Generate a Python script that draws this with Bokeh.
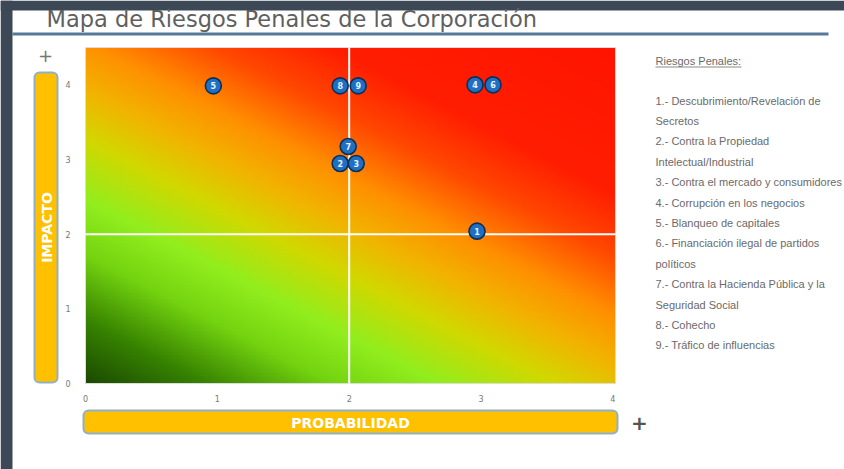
import numpy as np
from math import pi
from bokeh.plotting import figure
from bokeh.models import Range1d, Label, BoxAnnotation, ColumnDataSource, LinearAxis, FixedTicker
from bokeh.core.properties import value
from bokeh.embed import file_html
from bokeh.resources import INLINE

# ---------------- data ----------------
title_text = "Mapa de Riesgos Penales de la Corporación"
x_title = "PROBABILIDAD"
y_title = "IMPACTO"
risk_ids = ["1", "2", "3", "4", "5", "6", "7", "8", "9"]
probabilidad = [3, 2, 2, 3, 1, 3, 2, 2, 2]
impacto = [2, 3, 3, 4, 4, 4, 3, 4, 4]
# small visual separation of coincident points (pixels)
jitter_px_x = [-4, -9, 7, -6, -4, 12, -1, -9, 9]
jitter_px_y = [3, -4, -4, 0, -1, 0, 13, -1, -1]
x_ticks = [0, 1, 2, 3, 4]
y_ticks = [0, 1, 2, 3, 4]
legend_title = "Riesgos Penales:"
legend_lines = [
    "1.- Descubrimiento/Revelación de",
    "Secretos",
    "2.- Contra la Propiedad",
    "Intelectual/Industrial",
    "3.- Contra el mercado y consumidores",
    "4.- Corrupción en los negocios",
    "5.- Blanqueo de capitales",
    "6.- Financiación ilegal de partidos",
    "políticos",
    "7.- Contra la Hacienda Pública y la",
    "Seguridad Social",
    "8.- Cohecho",
    "9.- Tráfico de influencias",
]

# ---------------- figure: frame = whole page, default ranges in page pixels ----------------
W, H = 844, 469
X_MAX, Y_MAX = 4.02, 4.5
FL, FT, FR, FB = 85, 47, 615, 383  # chart area in page px
px_x = (FR - FL) / X_MAX
px_y = (FB - FT) / Y_MAX

p = figure(width=W, height=H, output_backend="svg", toolbar_location=None,
           x_range=Range1d(0, W), y_range=Range1d(H, 0), title=None,
           x_axis_location=None, y_axis_location=None, min_border=0)
p.background_fill_color = "white"
p.border_fill_color = "white"
p.outline_line_color = None
p.grid.visible = False
# chart coordinate system (probability / impact) mapped onto the page
p.extra_x_ranges = {"chart": Range1d(-FL / px_x, (W - FL) / px_x)}
p.extra_y_ranges = {"chart": Range1d(-(H - FB) / px_y, FB / px_y)}
C = dict(x_range_name="chart", y_range_name="chart")

# gradient background
ny, nx = 240, 240
gx, gy = np.meshgrid(np.linspace(0, 1, nx), np.linspace(0, 1, ny))
t = 0.45 * gx + 0.55 * gy
stops = [(0.00, "#1c4a00"), (0.10, "#368200"), (0.21, "#74d410"), (0.30, "#92ee1e"),
         (0.40, "#d2d800"), (0.48, "#f2b400"), (0.56, "#ff9000"), (0.66, "#ff4800"),
         (0.76, "#ff1e00"), (1.00, "#ff1400")]
sp = [s[0] for s in stops]
def ch(c, i):
    return int(c[1 + 2 * i:3 + 2 * i], 16)
img = np.empty((ny, nx), dtype=np.uint32)
view = img.view(dtype=np.uint8).reshape((ny, nx, 4))
for i in range(3):
    view[:, :, i] = np.interp(t, sp, [ch(s[1], i) for s in stops]).astype(np.uint8)
view[:, :, 3] = 255
p.image_rgba(image=[img], x=0, y=0, dw=X_MAX, dh=Y_MAX, **C)
p.quad(left=0, right=X_MAX, bottom=0, top=Y_MAX, fill_color=None, line_color="#dcdcdc", line_width=1, **C)

# crosshair at the mid values
p.segment(x0=[2, 0], y0=[0, 2], x1=[2, X_MAX], y1=[Y_MAX, 2], line_color="white", line_width=2, **C)

# points
xs = [v + dx / px_x for v, dx in zip(probabilidad, jitter_px_x)]
ys = [v + dy / px_y for v, dy in zip(impacto, jitter_px_y)]
src = ColumnDataSource(dict(x=xs, y=ys, id=risk_ids))
p.scatter("x", "y", source=src, size=16, fill_color="#1f70c2", line_color="#0a2f58", line_width=1.6, **C)
p.text("x", "y", text="id", source=src, text_color="#e8f2ff", text_font_size="8px",
       text_font_style="bold", text_align="center", text_baseline="middle",
       text_font=value("DejaVu Sans"), **C)

# axes fixed at the chart's edges
xax = LinearAxis(x_range_name="chart", y_range_name="chart", fixed_location=0,
                 ticker=FixedTicker(ticks=x_ticks))
yax = LinearAxis(x_range_name="chart", y_range_name="chart", fixed_location=0,
                 ticker=FixedTicker(ticks=y_ticks))
for ax in (xax, yax):
    ax.major_tick_line_color = None
    ax.minor_tick_line_color = None
    ax.axis_line_color = None
    ax.major_label_text_font_size = "8px"
    ax.major_label_text_color = "#777777"
    ax.major_label_text_font = "DejaVu Sans"
xax.major_label_standoff = 5
yax.major_label_standoff = 9
p.add_layout(xax, "below")
p.add_layout(yax, "left")

# ---------------- decorations (page pixels) ----------------
def box(l, r, top, bot, fill, line=None, lw=0, radius=0):
    p.add_layout(BoxAnnotation(left=l, right=r, top=top, bottom=bot,
                               fill_color=fill, fill_alpha=1.0,
                               line_color=line, line_width=lw, line_alpha=1.0,
                               border_radius=radius, level="underlay"))

def label(x, y, text, size, color, font="DejaVu Sans", style="normal", align="left", angle=0):
    p.add_layout(Label(x=x, y=y, text=text,
                       text_font_size=f"{size}px", text_color=color, text_font=font,
                       text_font_style=style, text_align=align, text_baseline="middle",
                       angle=angle))

# dark frame strips
box(0, 12, 0, H, "#3c4855")
box(0, W, 0, 10, "#3c4855")
# title and underline
label(46, 18, title_text, 22.5, "#5f5f5f")
box(12, 828, 32, 35, "#56799a")

# axis title bars
box(34, 57, 72, 382, "#ffc000", "#8fb0c8", 2, 5)
label(46, 227, y_title, 14, "white", style="bold", align="center", angle=pi / 2)
label(45, 55, "+", 18, "#777777", align="center")
box(83, 617, 410, 433, "#ffc000", "#8fb0c8", 2, 5)
label(350, 422, x_title, 14, "white", style="bold", align="center")
label(639, 422, "+", 20, "#555555", style="bold", align="center")

# legend text
label(655, 60, legend_title, 11, "#6a6a6a", font="Liberation Sans")
box(655, 741, 66, 67, "#8a8a8a")
y0 = 100
for i, line in enumerate(legend_lines):
    label(655, y0 + i * 20.4, line, 11, "#6a6a6a", font="Liberation Sans")

open("out.html", "w").write(file_html(p, INLINE))
